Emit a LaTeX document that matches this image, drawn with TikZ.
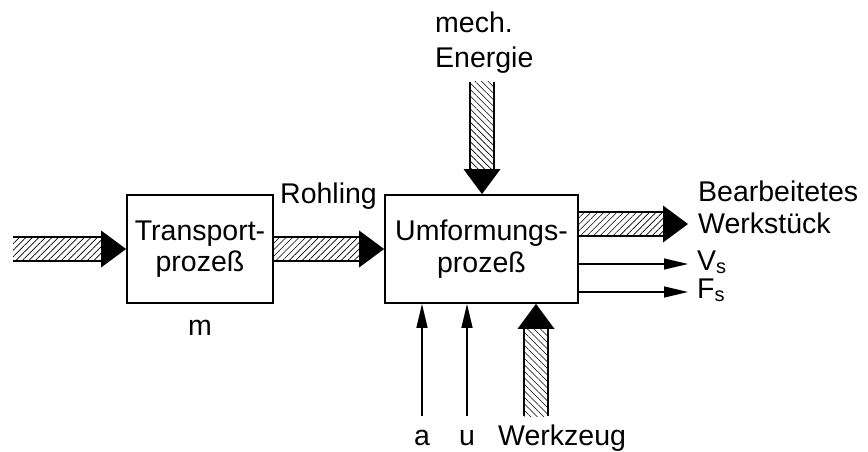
\documentclass[tikz,border=0pt]{standalone}
\usepackage{fontspec}
\setmainfont{Liberation Sans}
\usetikzlibrary{calc,arrows.meta,patterns.meta}

% horizontal hatched flow arrow: #1 start, #2 tip
\newcommand\hband[2]{%
  \path let \p1=(#1),\p2=(#2) in
    [pattern={Lines[angle=45,distance=4.6pt,line width=0.6pt]}]
    (\x1,\y2-12pt) rectangle (\x2-25pt,\y2+12pt);
  \draw[bandedge] let \p1=(#1),\p2=(#2) in
    (\x1,\y2-12pt) -- (\x2-25pt,\y2-12pt)
    (\x1,\y2+12pt) -- (\x2-25pt,\y2+12pt);
  \fill let \p1=(#1),\p2=(#2) in
    (\x2-25pt,\y2-18.5pt) -- (\x2,\y2) -- (\x2-25pt,\y2+18.5pt) -- cycle;}

% vertical hatched flow arrow: #1 start, #2 tip, #3 offset of head base from tip
\newcommand\vband[3]{%
  \path let \p1=(#1),\p2=(#2) in
    [pattern={Lines[angle=-45,distance=4.6pt,line width=0.6pt]}]
    (\x2-12pt,\y1) rectangle (\x2+12pt,\y2#325pt);
  \draw[bandedge] let \p1=(#1),\p2=(#2) in
    (\x2-12pt,\y1) -- (\x2-12pt,\y2#325pt)
    (\x2+12pt,\y1) -- (\x2+12pt,\y2#325pt);
  \fill let \p1=(#1),\p2=(#2) in
    (\x2-18.5pt,\y2#325pt) -- (\x2,\y2) -- (\x2+18.5pt,\y2#325pt) -- cycle;}

\begin{document}
\begin{tikzpicture}[x=1pt,y=-1pt,
  every node/.style={font=\fontsize{28.5}{31.5}\selectfont, inner sep=0pt},
  proc/.style={draw, line width=1.8pt, align=center, minimum height=108pt},
  bandedge/.style={line width=1.4pt},
  thin/.style={line width=1.4pt, -{Triangle[length=24pt,width=11pt]}},
  lbl/.style={anchor=base west},
  lblc/.style={anchor=base}]
\useasboundingbox (0,0) rectangle (868,452);

% process boxes
\node[proc, minimum width=146pt] (T) at (200,249) {Transport-\\prozeß};
\node[proc, minimum width=193pt] (U) at (481.5,249) {Umformungs-\\prozeß};

% free ends of the flows
\coordinate (in)  at (13,249);
\coordinate (en)  at (482,82);
\coordinate (wz)  at (536,416);
\coordinate (out) at (688,224);
\coordinate (vs)  at (688,264);
\coordinate (fs)  at (688,292);
\coordinate (pa)  at (422,416);
\coordinate (pu)  at (467,416);

% material and energy flows
\hband{in}{T.west}
\hband{T.east}{U.west}
\hband{U.east |- out}{out}
\vband{en}{U.north -| en}{+}
\vband{wz}{U.south -| wz}{-}

% signal flows
\draw[thin] (U.east |- vs) -- (vs);
\draw[thin] (U.east |- fs) -- (fs);
\draw[thin] (pa) -- (U.south -| pa);
\draw[thin] (pu) -- (U.south -| pu);

% labels
\node[lbl] (rohling) at (280,203) {Rohling};
\node[lbl] (mech) at (435,33) {mech.};
\node[lbl] (energie) at (435,68) {Energie};
\node[lbl] (bearb) at (698,201) {Bearbeitetes};
\node[lbl] (werkst) at (698,233) {Werkstück};
\node[lbl] (vslbl) at (697,270) {V\textsubscript{s}};
\node[lbl] (fslbl) at (697,298) {F\textsubscript{s}};
\node[lblc] (m) at (200,335) {m};
\node[lblc] (alb) at (422,445) {a};
\node[lblc] (ulb) at (467,445) {u};
\node[lbl] (wzlb) at (498,445) {Werkzeug};
\end{tikzpicture}
\end{document}
